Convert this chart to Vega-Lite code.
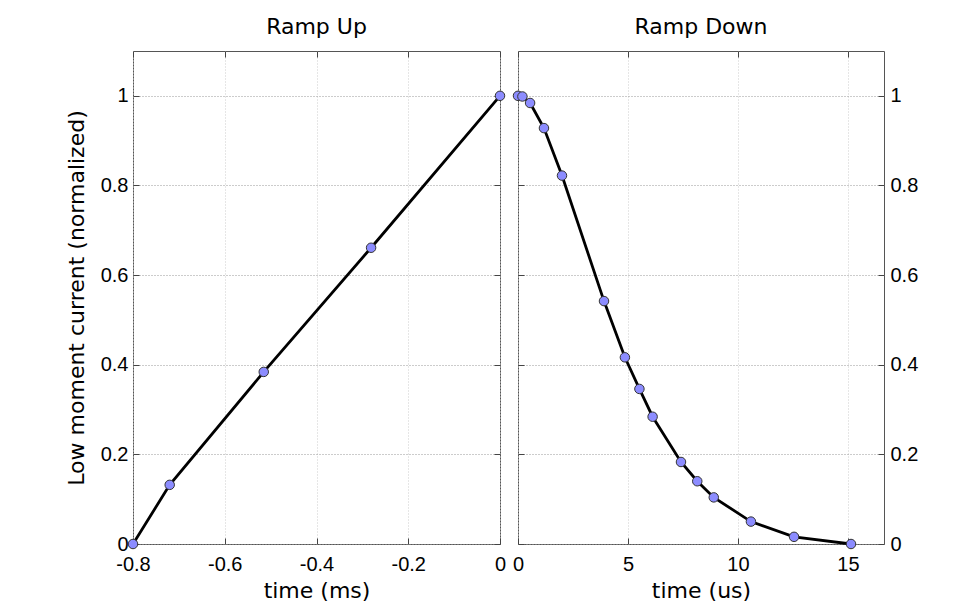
{
  "$schema": "https://vega.github.io/schema/vega-lite/v6.json",
  "background": "white",
  "padding": {"left": 64, "top": 15, "right": 5, "bottom": 5},
  "bounds": "flush",
  "spacing": 18,
  "hconcat": [
    {
      "width": 367,
      "height": 493,
      "title": {"text": "Ramp Up"},
      "data": {"values": [
        {"t": -0.8, "i": 0.0},
        {"t": -0.72, "i": 0.132},
        {"t": -0.515, "i": 0.384},
        {"t": -0.281, "i": 0.661},
        {"t": 0.0, "i": 1.0}
      ]},
      "layer": [
        {
          "mark": {"type": "line", "color": "black", "strokeWidth": 2.8},
          "encoding": {
            "x": {"field": "t", "type": "quantitative", "scale": {"domain": [-0.8, 0], "nice": false, "zero": false},
              "axis": {"orient": "bottom", "title": "time (ms)", "values": [-0.8, -0.6, -0.4, -0.2, 0], "format": "~g", "grid": true, "gridColor": "#cccccc", "gridDash": [1, 2], "tickSize": -6, "labelPadding": 16, "titlePadding": 6}},
            "y": {"field": "i", "type": "quantitative", "scale": {"domain": [0, 1.1], "nice": false},
              "axis": {"orient": "left", "title": "Low moment current (normalized)", "values": [0, 0.2, 0.4, 0.6, 0.8, 1], "format": "~g", "grid": true, "gridColor": "#999999", "gridDash": [1, 2], "tickSize": -6, "labelPadding": 11, "titlePadding": 12}}
          }
        },
        {
          "mark": {"type": "point", "filled": true, "fill": "#8c8cff", "stroke": "#333333", "strokeWidth": 1, "size": 90, "opacity": 1},
          "encoding": {
            "x": {"field": "t", "type": "quantitative",
              "axis": {"orient": "top", "title": null, "labels": false, "values": [-0.8, -0.6, -0.4, -0.2, 0], "grid": false, "tickSize": -6}},
            "y": {"field": "i", "type": "quantitative",
              "axis": {"orient": "right", "title": null, "labels": false, "values": [0, 0.2, 0.4, 0.6, 0.8, 1], "grid": false, "tickSize": -6}}
          }
        }
      ],
      "resolve": {"axis": {"x": "independent", "y": "independent"}}
    },
    {
      "width": 366,
      "height": 493,
      "title": {"text": "Ramp Down"},
      "data": {"values": [
        {"t": 0.0, "i": 1.0},
        {"t": 0.2, "i": 0.9985},
        {"t": 0.55, "i": 0.984},
        {"t": 1.18, "i": 0.928},
        {"t": 2.0, "i": 0.822},
        {"t": 3.91, "i": 0.542},
        {"t": 4.86, "i": 0.4165},
        {"t": 5.52, "i": 0.346},
        {"t": 6.12, "i": 0.284},
        {"t": 7.41, "i": 0.183},
        {"t": 8.15, "i": 0.14},
        {"t": 8.9, "i": 0.104},
        {"t": 10.59, "i": 0.05},
        {"t": 12.55, "i": 0.016},
        {"t": 15.14, "i": 0.0}
      ]},
      "layer": [
        {
          "mark": {"type": "line", "color": "black", "strokeWidth": 2.8},
          "encoding": {
            "x": {"field": "t", "type": "quantitative", "scale": {"domain": [0, 16.64], "nice": false},
              "axis": {"orient": "bottom", "title": "time (us)", "values": [0, 5, 10, 15], "format": "~g", "grid": true, "gridColor": "#cccccc", "gridDash": [1, 2], "tickSize": -6, "labelPadding": 16, "titlePadding": 6}},
            "y": {"field": "i", "type": "quantitative", "scale": {"domain": [0, 1.1], "nice": false},
              "axis": {"orient": "right", "title": null, "values": [0, 0.2, 0.4, 0.6, 0.8, 1], "format": "~g", "grid": true, "gridColor": "#999999", "gridDash": [1, 2], "tickSize": -6, "labelPadding": 12}}
          }
        },
        {
          "mark": {"type": "point", "filled": true, "fill": "#8c8cff", "stroke": "#333333", "strokeWidth": 1, "size": 90, "opacity": 1},
          "encoding": {
            "x": {"field": "t", "type": "quantitative",
              "axis": {"orient": "top", "title": null, "labels": false, "values": [0, 5, 10, 15], "grid": false, "tickSize": -6}},
            "y": {"field": "i", "type": "quantitative",
              "axis": {"orient": "left", "title": null, "labels": false, "values": [0, 0.2, 0.4, 0.6, 0.8, 1], "grid": false, "tickSize": -6}}
          }
        }
      ],
      "resolve": {"axis": {"x": "independent", "y": "independent"}}
    }
  ],
  "config": {
    "view": {"stroke": "#555555", "strokeWidth": 1},
    "axis": {
      "domain": false,
      "labelFont": "Liberation Sans",
      "labelFontSize": 20,
      "labelColor": "black",
      "labelFlush": false,
      "labelOverlap": false,
      "titleFont": "DejaVu Sans",
      "titleFontSize": 22,
      "titleFontWeight": "normal",
      "titleColor": "black",
      "tickColor": "#444444",
      "tickWidth": 1
    },
    "title": {"font": "DejaVu Sans", "fontSize": 22, "fontWeight": "normal", "color": "black", "offset": 12},
    "locale": {"number": {"decimal": ".", "thousands": ",", "grouping": [3], "currency": ["$", ""], "minus": "-"}}
  }
}
